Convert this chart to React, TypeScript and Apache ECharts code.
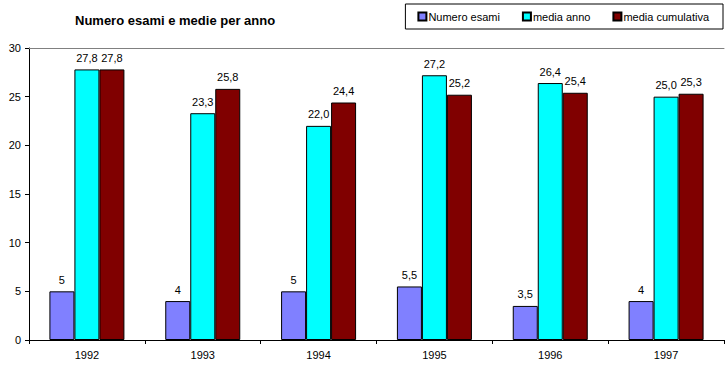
import React, { useEffect, useRef } from "react";
import * as echarts from "echarts";

const years = ["1992", "1993", "1994", "1995", "1996", "1997"];
const numeroEsami = [5, 4, 5, 5.5, 3.5, 4];
const mediaAnno = [27.8, 23.3, 22.0, 27.2, 26.4, 25.0];
const mediaCumulativa = [27.8, 25.8, 24.4, 25.2, 25.4, 25.3];
const yTicks = [0, 5, 10, 15, 20, 25, 30];

const FONT = "'Liberation Sans', Arial, sans-serif";

export default function App() {
  const ref = useRef<HTMLDivElement>(null);
  useEffect(() => {
    const chart = echarts.init(ref.current!, null, { renderer: "svg" });
    const fmtInt = (p: any) => String(p.value).replace(".", ",");
    const fmt1 = (p: any) => Number(p.value).toFixed(1).replace(".", ",");
    const label = (f: any) => ({
      show: true,
      position: "top",
      distance: 6,
      formatter: f,
      color: "#000",
      fontFamily: FONT,
      fontSize: 11,
    });
    chart.setOption({
      animation: false,
      backgroundColor: "#fff",
      textStyle: { fontFamily: FONT },
      title: {
        text: "Numero esami e medie per anno",
        left: 70,
        top: 9,
        textStyle: { fontFamily: FONT, fontSize: 13, fontWeight: "bold", color: "#000" },
      },
      legend: {
        right: 3,
        top: 4,
        width: 400,
        borderColor: "#000",
        borderWidth: 1,
        padding: [7, 14, 7, 12],
        itemGap: 22,
        itemWidth: 8,
        itemHeight: 8,
        icon: "rect",
        textStyle: { fontFamily: FONT, fontSize: 11, color: "#000", padding: [0, 0, 0, -3] },
        data: ["Numero esami", "media anno", "media cumulativa"],
      },
      grid: { left: 29, right: 2, top: 48, bottom: 26, containLabel: false },
      xAxis: [
        {
          type: "category",
          data: years,
          axisLine: { lineStyle: { color: "#000", width: 1 } },
          axisTick: { show: true, length: 4, lineStyle: { color: "#000" } },
          axisLabel: { color: "#000", fontFamily: FONT, fontSize: 11, margin: 9 },
        },
        {
          type: "category",
          data: years,
          position: "top",
          axisLine: { lineStyle: { color: "#808080", width: 1 } },
          axisTick: { show: false },
          axisLabel: { show: false },
        },
      ],
      yAxis: {
        type: "value",
        min: yTicks[0],
        max: yTicks[yTicks.length - 1],
        interval: 5,
        axisLine: { show: true, lineStyle: { color: "#000" } },
        axisTick: { show: true, length: 4, lineStyle: { color: "#000" } },
        axisLabel: { color: "#000", fontFamily: FONT, fontSize: 11, margin: 8 },
        splitLine: { show: false },
      },
      series: [
        {
          name: "Numero esami",
          type: "bar",
          data: numeroEsami,
          barWidth: 25,
          barGap: "0%",
          itemStyle: { color: "#8080FF", borderColor: "#000", borderWidth: 1 },
          label: label(fmtInt),
        },
        {
          name: "media anno",
          type: "bar",
          data: mediaAnno,
          barWidth: 25,
          barGap: "0%",
          itemStyle: { color: "#00FFFF", borderColor: "#000", borderWidth: 1 },
          label: label(fmt1),
        },
        {
          name: "media cumulativa",
          type: "bar",
          data: mediaCumulativa,
          barWidth: 25,
          barGap: "0%",
          itemStyle: { color: "#800000", borderColor: "#000", borderWidth: 1 },
          label: label(fmt1),
        },
      ],
    });
    return () => chart.dispose();
  }, []);
  return <div ref={ref} style={{ width: 726, height: 366, position: "absolute", left: 0, top: 0 }} />;
}
